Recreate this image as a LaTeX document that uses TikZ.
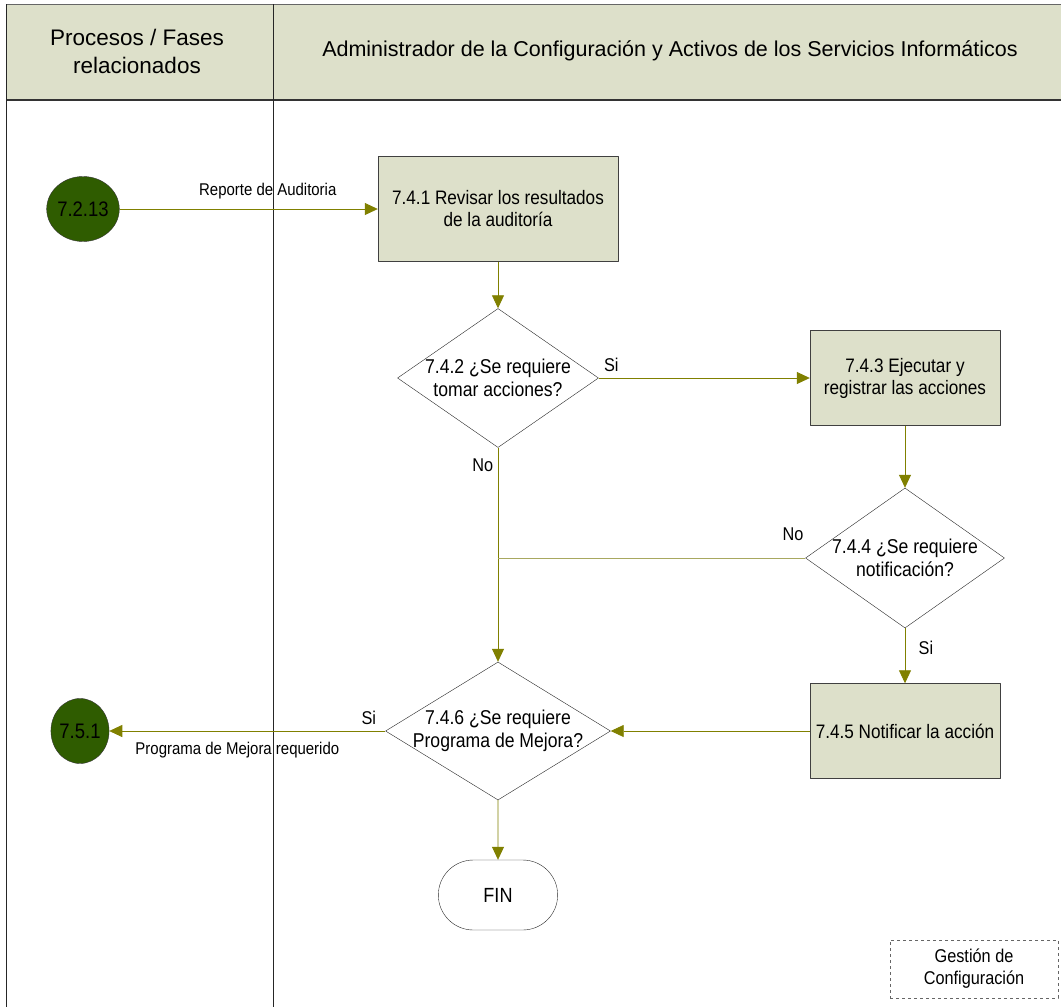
\documentclass[tikz,border=0pt]{standalone}
\usepackage{fontspec}
\setmainfont{Liberation Sans}
\newfontfamily\narrowfont[FakeStretch=0.88]{Liberation Sans}
\usetikzlibrary{arrows.meta,shapes.geometric,shapes.misc,positioning}

\definecolor{lane}{HTML}{DDE0CA}
\definecolor{flow}{HTML}{808000}
\definecolor{flowlight}{HTML}{A8A860}
\definecolor{conn}{HTML}{2F5C00}

\tikzset{%
     process/.style = { draw=black!75, fill=lane, minimum width=240, minimum height=105,
                        inner sep=0pt, align=center, font=\narrowfont\fontsize{19.5}{22}\selectfont },
    decision/.style = { draw=black!85, fill=white, diamond, minimum width=201, minimum height=139,
                        inner sep=0pt },
        qtext/.style = { align=center, font=\narrowfont\fontsize{20}{22.5}\selectfont },
   connector/.style = { draw=black!80, fill=conn, ellipse, inner sep=0pt,
                        font=\narrowfont\fontsize{21}{24}\selectfont },
      finish/.style = { draw=black!85, rounded rectangle, minimum width=126, minimum height=70,
                        font=\narrowfont\fontsize{20.5}{24}\selectfont },
        flow/.style = { draw=flow, thick, -{Triangle[length=13pt,width=12pt]} },
        edge/.style = { font=\narrowfont\fontsize{17}{20}\selectfont },
       answer/.style = { font=\narrowfont\fontsize{18.5}{21}\selectfont }
}

\begin{document}
\begin{tikzpicture}[x=1pt,y=-1pt,line join=round]
\useasboundingbox (0,0) rectangle (1061,1007);

% swimlane frame
\fill[lane] (6,4) rectangle (1061,100);
\draw[black!60, thick] (6,4) -- (1061,4);
\draw[black!80, very thick] (6,100) -- (1061,100);
\draw[black!85, thick] (6,4) -- (6,1007);
\draw[black!85, thick] (273,4) -- (273,1007);
\node[align=center, font=\fontsize{22.5}{28}\selectfont] (laneA) at (137,51) {Procesos / Fases\\relacionados};
\node[font=\fontsize{21.5}{25}\selectfont] (laneB) at (670,51) {Administrador de la Configuraci\'on y Activos de los Servicios Inform\'aticos};

% steps
\node[connector, minimum width=64, minimum height=65] (in) at (83,209) {7.2.13};
\node[process] (a741) at (498,209) {7.4.1 Revisar los resultados\\de la auditor\'ia};
\node[decision] (d742) at (498,378) {};
\node[qtext] at (d742) {7.4.2 ¿Se requiere\\tomar acciones?};
\node[process, minimum width=190, minimum height=95] (a743) at (905,378) {7.4.3 Ejecutar y\\registrar las acciones};
\node[decision, minimum width=199, minimum height=140] (d744) at (905,558) {};
\node[qtext] at (d744) {7.4.4 ¿Se requiere\\notificaci\'on?};
\node[process, minimum width=190, minimum height=95] (a745) at (905,731) {7.4.5 Notificar la acci\'on};
\node[decision, minimum width=225, minimum height=138] (d746) at (498,731) {};
\node[qtext] at (d746) {7.4.6 ¿Se requiere\\Programa de Mejora?};
\node[connector, minimum width=56, minimum height=65] (out) at (80,731) {7.5.1};
\node[finish] (fin) at (498,895) {FIN};

% flow
\draw[flow] (in) -- node[edge, above=6pt, pos=0.574] {Reporte de Auditoria} (a741);
\draw[flow] (a741) -- (d742);
\draw[flow] (d742.east) -- node[answer, pos=0.06, above=3pt] {Si} (a743);
\draw[flow] (a743) -- (d744);
\draw[flow] (d742.south) -- node[answer, pos=0.08, left=1pt] {No} (d746.north);
\draw[draw=flowlight, thick] (d744.west) -- node[answer, pos=0.04, above=14pt] {No} (d742.south |- d744.west);
\draw[flow] (d744.south) -- node[answer, pos=0.35, right=10pt] {Si} (a745);
\draw[flow] (a745) -- (d746.east);
\draw[flow] (d746.west) -- node[answer, pos=0.06, above=3pt] {Si}
  node[edge, pos=0.536, below=7pt] {Programa de Mejora requerido} (out);
\draw[flow] (d746) -- (fin);

% legend
\node[draw=black!60, dashed, minimum width=168, minimum height=58, align=center,
      font=\narrowfont\fontsize{18.5}{22}\selectfont] (legend) at (974,969) {Gesti\'on de\\Configuraci\'on};
\end{tikzpicture}
\end{document}
